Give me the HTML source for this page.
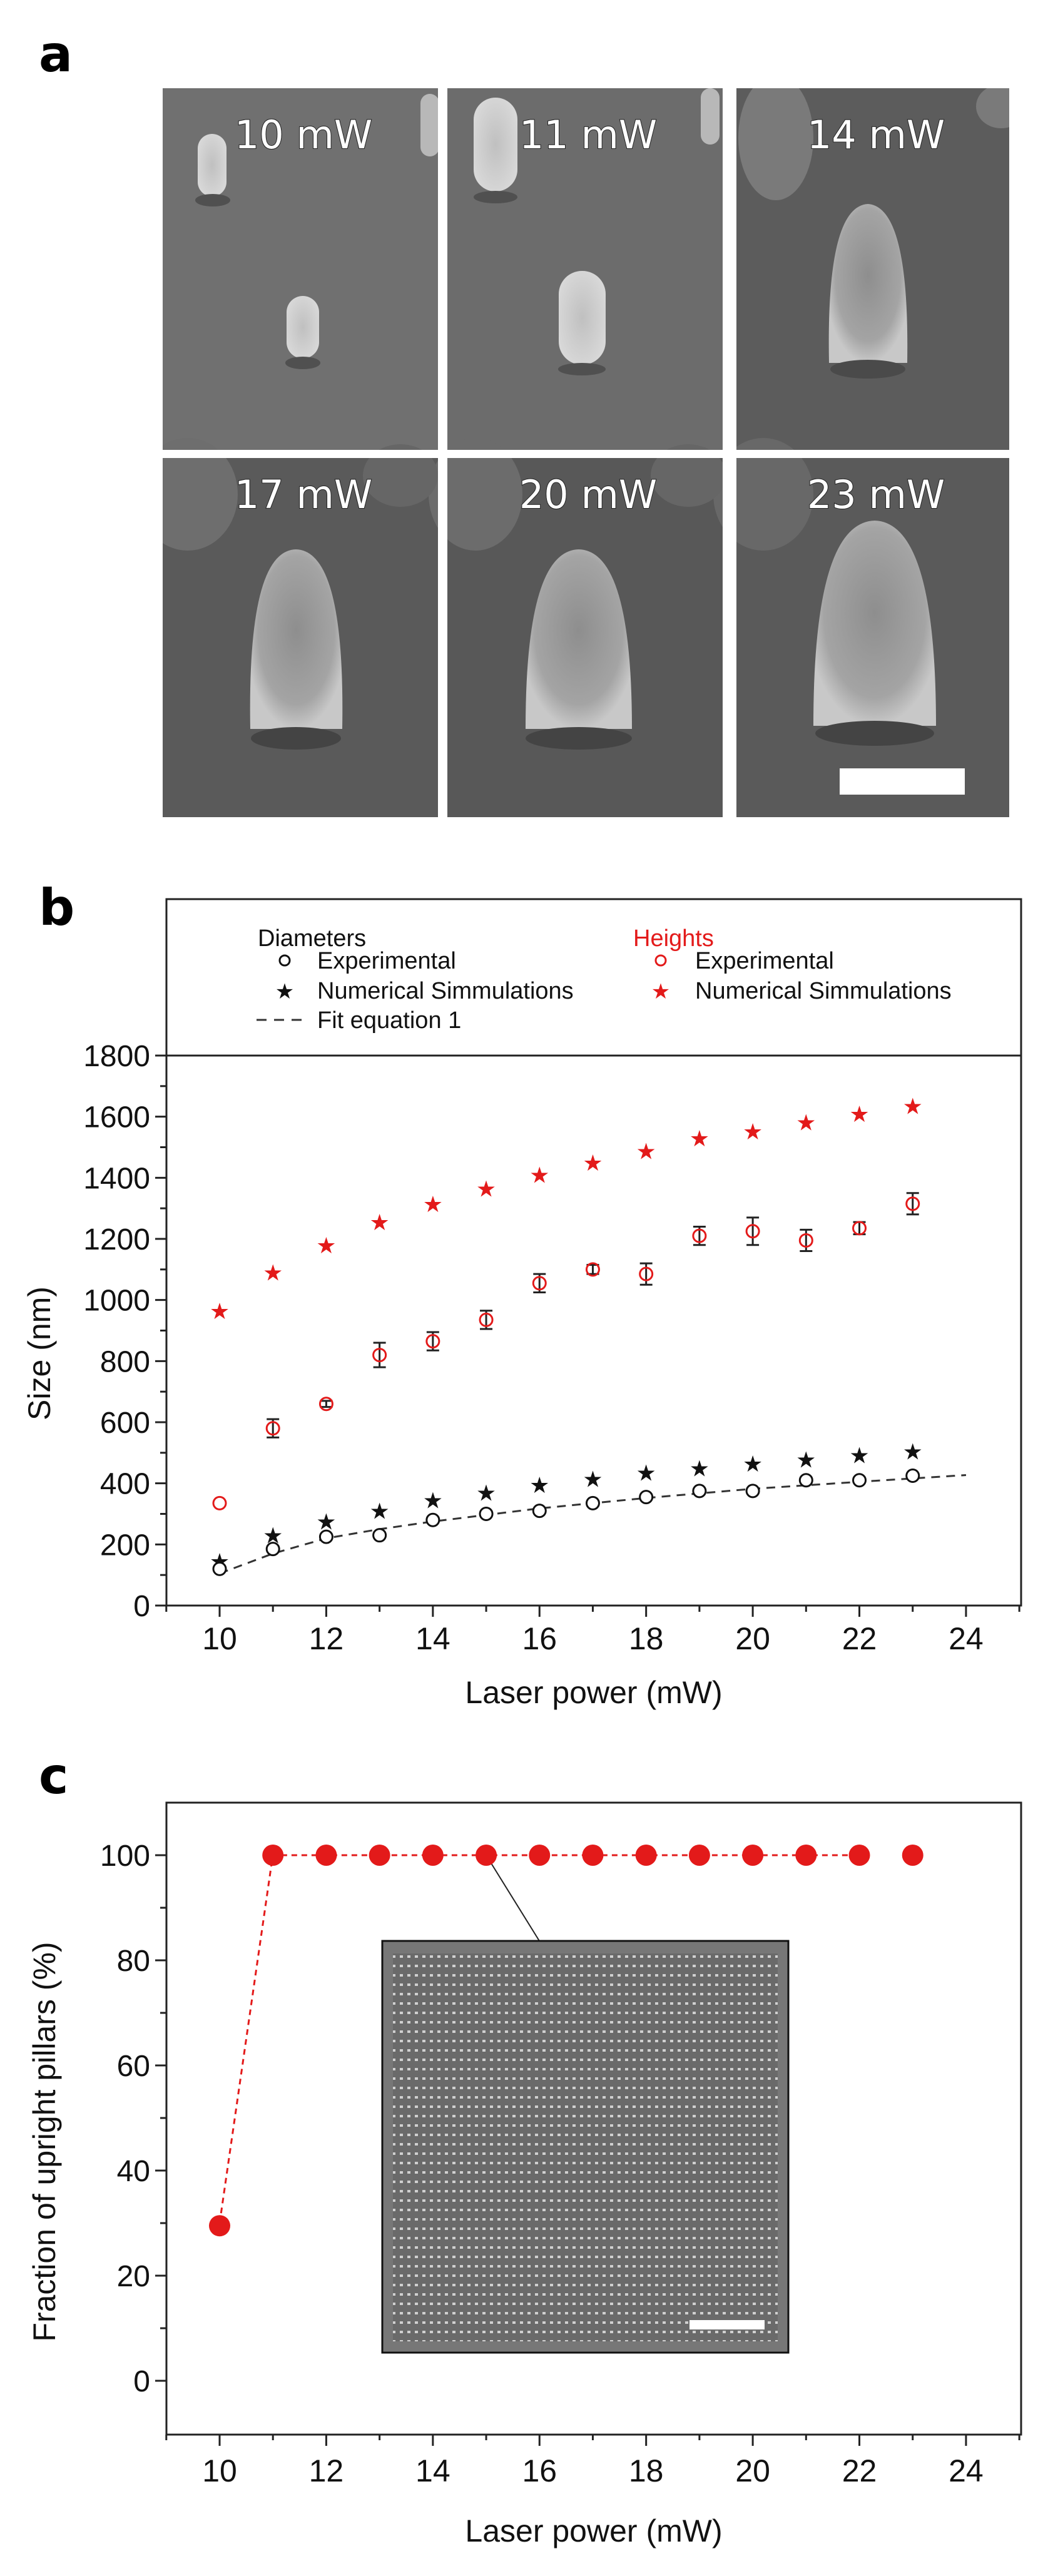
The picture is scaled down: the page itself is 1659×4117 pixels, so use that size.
<!DOCTYPE html>
<html><head><meta charset="utf-8"><style>
html,body{margin:0;padding:0;background:#fff;}
svg{display:block;}
text{font-family:"Liberation Sans",sans-serif;}
.lab{font-family:"DejaVu Sans","Liberation Sans",sans-serif;font-weight:bold;font-size:80px;fill:#000;}
.tl{font-family:"DejaVu Sans","Liberation Sans",sans-serif;font-size:62px;fill:#fff;stroke:#222;stroke-width:2;paint-order:stroke;}
.lg{font-size:38px;fill:#111;}
</style></head><body>
<svg width="1659" height="4117" viewBox="0 0 1659 4117" xmlns="http://www.w3.org/2000/svg">
<defs>
<radialGradient id="pil" cx="50%" cy="45%" r="55%">
<stop offset="0" stop-color="#8e8e8e"/><stop offset="0.75" stop-color="#a4a4a4"/><stop offset="1" stop-color="#c8c8c8"/>
</radialGradient>
<radialGradient id="pil2" cx="50%" cy="50%" r="55%">
<stop offset="0" stop-color="#c0c0c0"/><stop offset="1" stop-color="#d8d8d8"/>
</radialGradient>
<pattern id="dots" width="12" height="15" patternUnits="userSpaceOnUse"><rect width="12" height="15" fill="#6a6a6a"/><rect x="3" y="5" width="5" height="4" fill="#d0d0d0"/></pattern>
<clipPath id="tiles">
<rect x="260" y="141" width="440" height="578"/>
<rect x="715" y="141" width="440" height="578"/>
<rect x="1177" y="141" width="436" height="578"/>
<rect x="260" y="732" width="440" height="574"/>
<rect x="715" y="732" width="440" height="574"/>
<rect x="1177" y="732" width="436" height="574"/>
</clipPath>
</defs>

<!-- Panel a -->
<text class="lab" x="62" y="114">a</text>
<g clip-path="url(#tiles)">
<rect x="260" y="141" width="440" height="578" fill="#707070"/>
<rect x="715" y="141" width="440" height="578" fill="#6c6c6c"/>
<rect x="1177" y="141" width="436" height="578" fill="#5c5c5c"/>
<rect x="260" y="732" width="440" height="574" fill="#5a5a5a"/>
<rect x="715" y="732" width="440" height="574" fill="#585858"/>
<rect x="1177" y="732" width="436" height="574" fill="#5a5a5a"/>
<rect x="316" y="214" width="46" height="100" rx="23" fill="url(#pil2)"/>
<ellipse cx="340" cy="320" rx="28" ry="10" fill="#505050"/>
<rect x="672" y="150" width="30" height="100" rx="15" fill="#b8b8b8"/>
<rect x="458" y="473" width="52" height="100" rx="26" fill="url(#pil2)"/>
<ellipse cx="484" cy="580" rx="28" ry="10" fill="#505050"/>
<rect x="757" y="156" width="70" height="150" rx="35" fill="url(#pil2)"/>
<ellipse cx="792" cy="315" rx="35" ry="10" fill="#505050"/>
<rect x="1120" y="141" width="30" height="90" rx="15" fill="#b8b8b8"/>
<rect x="893" y="433" width="75" height="150" rx="37" fill="url(#pil2)"/>
<ellipse cx="930" cy="590" rx="38" ry="10" fill="#505050"/>
<path d="M1325,580 Q1320,330 1387,326 Q1454,330 1450,580 Z" fill="url(#pil)"/>
<ellipse cx="1387" cy="590" rx="60" ry="15" fill="#4a4a4a"/>
<ellipse cx="1240" cy="220" rx="60" ry="100" fill="#7a7a7a"/>
<ellipse cx="1600" cy="170" rx="40" ry="35" fill="#7a7a7a"/>
<path d="M400,1165 Q395,880 473,878 Q552,880 547,1165 Z" fill="url(#pil)"/>
<ellipse cx="473" cy="1180" rx="72" ry="18" fill="#444"/>
<path d="M840,1165 Q840,880 925,878 Q1010,880 1010,1165 Z" fill="url(#pil)"/>
<ellipse cx="925" cy="1180" rx="85" ry="18" fill="#444"/>
<path d="M1300,1160 Q1300,835 1398,832 Q1496,835 1496,1160 Z" fill="url(#pil)"/>
<ellipse cx="1398" cy="1172" rx="95" ry="20" fill="#444"/>
<ellipse cx="300" cy="790" rx="80" ry="90" fill="#6e6e6e"/>
<ellipse cx="760" cy="790" rx="75" ry="90" fill="#6c6c6c"/>
<ellipse cx="1220" cy="790" rx="80" ry="90" fill="#686868"/>
<ellipse cx="640" cy="760" rx="60" ry="50" fill="#666"/>
<ellipse cx="1100" cy="760" rx="60" ry="50" fill="#666"/>
</g>
<rect x="1342" y="1228" width="200" height="42" fill="#fff"/>
<text class="tl" x="485" y="237" text-anchor="middle">10 mW</text>
<text class="tl" x="940" y="237" text-anchor="middle">11 mW</text>
<text class="tl" x="1400" y="237" text-anchor="middle">14 mW</text>
<text class="tl" x="485" y="812" text-anchor="middle">17 mW</text>
<text class="tl" x="940" y="812" text-anchor="middle">20 mW</text>
<text class="tl" x="1400" y="812" text-anchor="middle">23 mW</text>

<!-- Panel b -->
<text class="lab" x="62" y="1478">b</text>
<rect x="266" y="1437" width="1366" height="1129" fill="none" stroke="#222" stroke-width="3"/>
<line x1="266" y1="1687" x2="1632" y2="1687" stroke="#222" stroke-width="3"/>
<g id="bticks" stroke="#222" stroke-width="3"></g>
<text class="lg" x="412" y="1512">Diameters</text>
<circle cx="455" cy="1535" r="8" fill="none" stroke="#111" stroke-width="3"/>
<text class="lg" x="507" y="1548">Experimental</text>
<text x="455" y="1596" font-size="34" text-anchor="middle" fill="#111">★</text>
<text class="lg" x="507" y="1596">Numerical Simmulations</text>
<line x1="410" y1="1630" x2="490" y2="1630" stroke="#333" stroke-width="3" stroke-dasharray="16,12"/>
<text class="lg" x="507" y="1643">Fit equation 1</text>
<text class="lg" x="1012" y="1512" style="fill:#e31a1a">Heights</text>
<circle cx="1056" cy="1535" r="8" fill="none" stroke="#e31a1a" stroke-width="3"/>
<text class="lg" x="1111" y="1548">Experimental</text>
<text x="1056" y="1596" font-size="34" text-anchor="middle" fill="#e31a1a">★</text>
<text class="lg" x="1111" y="1596">Numerical Simmulations</text>
<g id="bdata"></g>
<text x="949" y="2722" font-size="50" text-anchor="middle" fill="#111">Laser power (mW)</text>
<text transform="translate(80,2163) rotate(-90)" font-size="50" text-anchor="middle" fill="#111">Size (nm)</text>

<!-- Panel c -->
<text class="lab" x="62" y="2866">c</text>
<rect x="266" y="2881" width="1366" height="1010" fill="none" stroke="#222" stroke-width="3"/>
<g id="cticks" stroke="#222" stroke-width="3"></g>
<polyline points="351,3553 436,2965 1374,2965" fill="none" stroke="#e31a1a" stroke-width="3" stroke-dasharray="9,7"/>
<line x1="777" y1="2965" x2="862" y2="3102" stroke="#222" stroke-width="2"/>
<g id="cdata"></g>
<rect x="611" y="3102" width="649" height="658" fill="#777"/>
<rect x="628" y="3122" width="615" height="620" fill="url(#dots)"/>
<rect x="611" y="3102" width="649" height="658" fill="none" stroke="#111" stroke-width="3"/>
<rect x="1102" y="3708" width="120" height="15" fill="#fff"/>
<text x="949" y="4062" font-size="50" text-anchor="middle" fill="#111">Laser power (mW)</text>
<text transform="translate(88,3423) rotate(-90)" font-size="50" text-anchor="middle" fill="#111">Fraction of upright  pillars (%)</text>
</svg>
<script>
var NS="http://www.w3.org/2000/svg";
function el(p,t,a,txt){var e=document.createElementNS(NS,t);for(var k in a)e.setAttribute(k,a[k]);if(txt!==undefined)e.textContent=txt;p.appendChild(e);return e;}
function X(v){return 351+(v-10)*85.21;}
var bt=document.getElementById('bticks'),root=bt.parentNode;
function Yb(v){return 2566-v*(879/1800);}
for(var v=0;v<=1800;v+=100){var y=Yb(v),maj=v%200==0;el(bt,'line',{x1:266,x2:maj?248:256,y1:y,y2:y});if(maj)el(root,'text',{x:240,y:y+17,'font-size':48,'text-anchor':'end',fill:'#111'},v);}
for(var m=9;m<=25;m++){var x=X(m),maj=m%2==0;el(bt,'line',{x1:x,x2:x,y1:2566,y2:maj?2584:2576});if(maj&&m>=10&&m<=24)el(root,'text',{x:x,y:2636,'font-size':50,'text-anchor':'middle',fill:'#111'},m);}
var bd=document.getElementById('bdata');
var hs=[965,1090,1180,1255,1315,1365,1410,1450,1488,1530,1552,1582,1610,1635];
var he=[335,580,660,820,865,935,1055,1100,1085,1210,1225,1195,1235,1315];
var hr=[0,30,10,40,30,30,30,15,35,30,45,35,20,35];
var ds=[145,230,275,310,345,370,395,415,435,450,465,478,493,505];
var de=[120,185,225,230,280,300,310,335,355,375,375,410,410,425];
var fit=[[10,105],[11,170],[12,220],[13,250],[14,275],[16,318],[18,352],[20,382],[22,405],[24,427]];
var pts=fit.map(function(p){return X(p[0])+','+Yb(p[1]);}).join(' ');
el(bd,'polyline',{points:pts,fill:'none',stroke:'#333','stroke-width':3,'stroke-dasharray':'14,10'});
for(var i=0;i<14;i++){var x=X(10+i);
 el(bd,'text',{x:x,y:Yb(hs[i])+13,'font-size':36,'text-anchor':'middle',fill:'#e31a1a'},'★');
 el(bd,'text',{x:x,y:Yb(ds[i])+13,'font-size':36,'text-anchor':'middle',fill:'#111'},'★');
 if(hr[i]){var y1=Yb(he[i]+hr[i]),y2=Yb(he[i]-hr[i]);el(bd,'line',{x1:x,x2:x,y1:y1,y2:y2,stroke:'#222','stroke-width':3});el(bd,'line',{x1:x-10,x2:x+10,y1:y1,y2:y1,stroke:'#222','stroke-width':3});el(bd,'line',{x1:x-10,x2:x+10,y1:y2,y2:y2,stroke:'#222','stroke-width':3});}
 el(bd,'circle',{cx:x,cy:Yb(he[i]),r:10,fill:'none',stroke:'#e31a1a','stroke-width':3});
 el(bd,'circle',{cx:x,cy:Yb(de[i]),r:10,fill:'#fff',stroke:'#111','stroke-width':3});
}
var ct=document.getElementById('cticks');
function Yc(v){return 3805-v*8.4;}
for(var v=0;v<=100;v+=10){var y=Yc(v),maj=v%20==0;el(ct,'line',{x1:266,x2:maj?248:256,y1:y,y2:y});if(maj)el(root,'text',{x:240,y:y+17,'font-size':48,'text-anchor':'end',fill:'#111'},v);}
for(var m=9;m<=25;m++){var x=X(m),maj=m%2==0;el(ct,'line',{x1:x,x2:x,y1:3891,y2:maj?3909:3900});if(maj&&m>=10&&m<=24)el(root,'text',{x:x,y:3966,'font-size':50,'text-anchor':'middle',fill:'#111'},m);}
var cd=document.getElementById('cdata');
for(var i=0;i<14;i++){el(cd,'circle',{cx:X(10+i),cy:Yc(i==0?29.5:100),r:17,fill:'#e31a1a'});}
</script>
</body></html>
